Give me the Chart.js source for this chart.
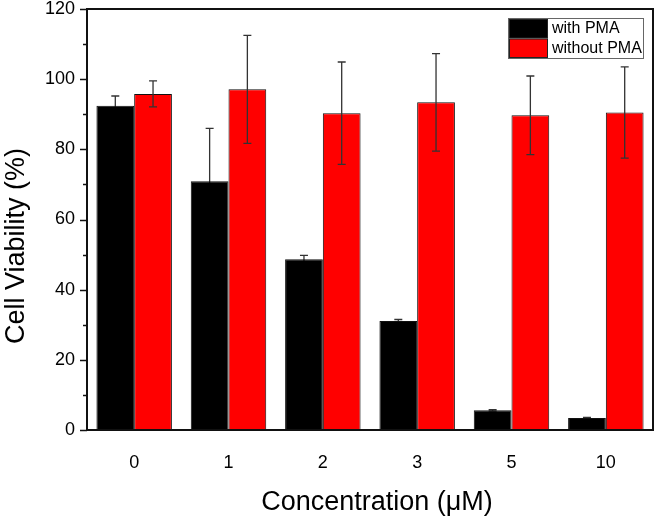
<!DOCTYPE html>
<html>
<head>
<meta charset="utf-8">
<script src="https://cdn.jsdelivr.net/npm/chart.js@4.4.1/dist/chart.umd.min.js"></script>
<style>
  html, body { margin: 0; padding: 0; background: #fff; }
  canvas { display: block; }
</style>
</head>
<body>
<canvas id="viabilityChart" width="657" height="518"></canvas>
<script>
const concentrations = ['0', '1', '2', '3', '5', '10'];
const withPMA = [92.4, 70.9, 48.7, 31.1, 5.6, 3.4];
const withPMAErr = [2.8, 15.1, 1.1, 0.4, 0.2, 0.2];
const withoutPMA = [95.8, 97.1, 90.3, 93.4, 89.7, 90.5];
const withoutPMAErr = [3.7, 15.4, 14.6, 13.9, 11.2, 13.0];
const yTicks = [0, 20, 40, 60, 80, 100, 120];

const errors = [withPMAErr, withoutPMAErr];
const FONT = '"Liberation Sans", Arial, sans-serif';

function drawErrors(chart, i) {
    const ctx = chart.ctx;
    const y = chart.scales.y;
    const ds = chart.data.datasets[i];
    ctx.save();
    ctx.strokeStyle = '#333';
    ctx.lineWidth = 1.3;
    chart.getDatasetMeta(i).data.forEach((bar, j) => {
        const v = ds.data[j];
        const e = errors[i][j];
        const top = y.getPixelForValue(v + e);
        const bot = y.getPixelForValue(v - e);
        ctx.beginPath();
        ctx.moveTo(bar.x, top);
        ctx.lineTo(bar.x, bot);
        ctx.moveTo(bar.x - 4, top);
        ctx.lineTo(bar.x + 4, top);
        ctx.moveTo(bar.x - 4, bot);
        ctx.lineTo(bar.x + 4, bot);
        ctx.stroke();
    });
    ctx.restore();
}

// error bars, frame, minor ticks, titles and the boxed legend
const extras = {
    id: 'extras',
    beforeDatasetsDraw(chart) {
        // black bars hide the lower half of their own error bars
        drawErrors(chart, 0);
    },
    afterDatasetsDraw(chart) {
        drawErrors(chart, 1);
    },
    afterDraw(chart) {
        const ctx = chart.ctx;
        const a = chart.chartArea;
        const y = chart.scales.y;
        ctx.save();
        ctx.strokeStyle = '#111';
        ctx.lineWidth = 2;
        ctx.strokeRect(a.left, a.top, a.right - a.left, a.bottom - a.top);

        ctx.lineWidth = 1.5;
        ctx.beginPath();
        y.ticks.forEach(t => {
            const py = Math.round(y.getPixelForValue(t.value)) + 0.5;
            const len = yTicks.includes(t.value) ? 7 : 4;
            ctx.moveTo(a.left - len, py);
            ctx.lineTo(a.left, py);
        });
        ctx.stroke();

        // axis titles
        ctx.fillStyle = '#000';
        ctx.font = '27px ' + FONT;
        ctx.textAlign = 'center';
        ctx.textBaseline = 'alphabetic';
        ctx.fillText('Concentration (μM)', a.left + (a.right - a.left) / 2 + 7, 510);
        ctx.save();
        ctx.translate(24, 246);
        ctx.rotate(-Math.PI / 2);
        ctx.fillText('Cell Viability (%)', 0, 0);
        ctx.restore();

        // legend box
        const lx = a.right - 145, ly = a.top + 9;
        const rowH = 19.5, sw = 38, w = 135;
        ctx.fillStyle = '#fff';
        ctx.fillRect(lx, ly, w, rowH * 2 + 1);
        ctx.strokeStyle = '#666';
        ctx.lineWidth = 1;
        ctx.strokeRect(lx + 0.5, ly + 0.5, w, rowH * 2 + 1);
        ctx.font = '16px ' + FONT;
        ctx.textAlign = 'left';
        ctx.textBaseline = 'middle';
        chart.data.datasets.forEach((ds, i) => {
            const ry = ly + 1 + i * rowH;
            ctx.fillStyle = ds.backgroundColor;
            ctx.fillRect(lx + 1.5, ry + 0.5, sw, rowH - 1);
            ctx.strokeStyle = '#222';
            ctx.strokeRect(lx + 1.5, ry + 0.5, sw, rowH - 1);
            ctx.fillStyle = '#000';
            ctx.fillText(ds.label, lx + sw + 6, ry + rowH / 2);
        });
        ctx.restore();
    }
};

new Chart(document.getElementById('viabilityChart'), {
    type: 'bar',
    data: {
        labels: concentrations,
        datasets: [{
            label: 'with PMA',
            data: withPMA,
            backgroundColor: '#000000',
            borderColor: '#111',
            borderWidth: 1
        }, {
            label: 'without PMA',
            data: withoutPMA,
            backgroundColor: '#ff0000',
            borderColor: '#111',
            borderWidth: 1
        }]
    },
    options: {
        responsive: false,
        animation: false,
        layout: { padding: { top: 9, right: 4, left: 0, bottom: 0 } },
        datasets: {
            bar: { categoryPercentage: 0.8, barPercentage: 1.0 }
        },
        plugins: {
            legend: { display: false },
            tooltip: { enabled: false }
        },
        scales: {
            x: {
                grid: { display: false },
                border: { display: false },
                ticks: {
                    color: '#000',
                    padding: 14,
                    font: { family: FONT, size: 18 }
                },
                afterFit: (s) => { s.height = 88; }
            },
            y: {
                min: 0,
                max: 120,
                grid: { display: false },
                border: { display: false },
                ticks: {
                    stepSize: 10,
                    color: '#000',
                    padding: 4,
                    font: { family: FONT, size: 18, lineHeight: 1.0 },
                    callback: (v) => yTicks.includes(v) ? v : ''
                },
                afterFit: (s) => {
                    s.width = 87;
                    s.paddingTop = 0;
                    s.paddingBottom = 0;
                }
            }
        }
    },
    plugins: [extras]
});
</script>
</body>
</html>
